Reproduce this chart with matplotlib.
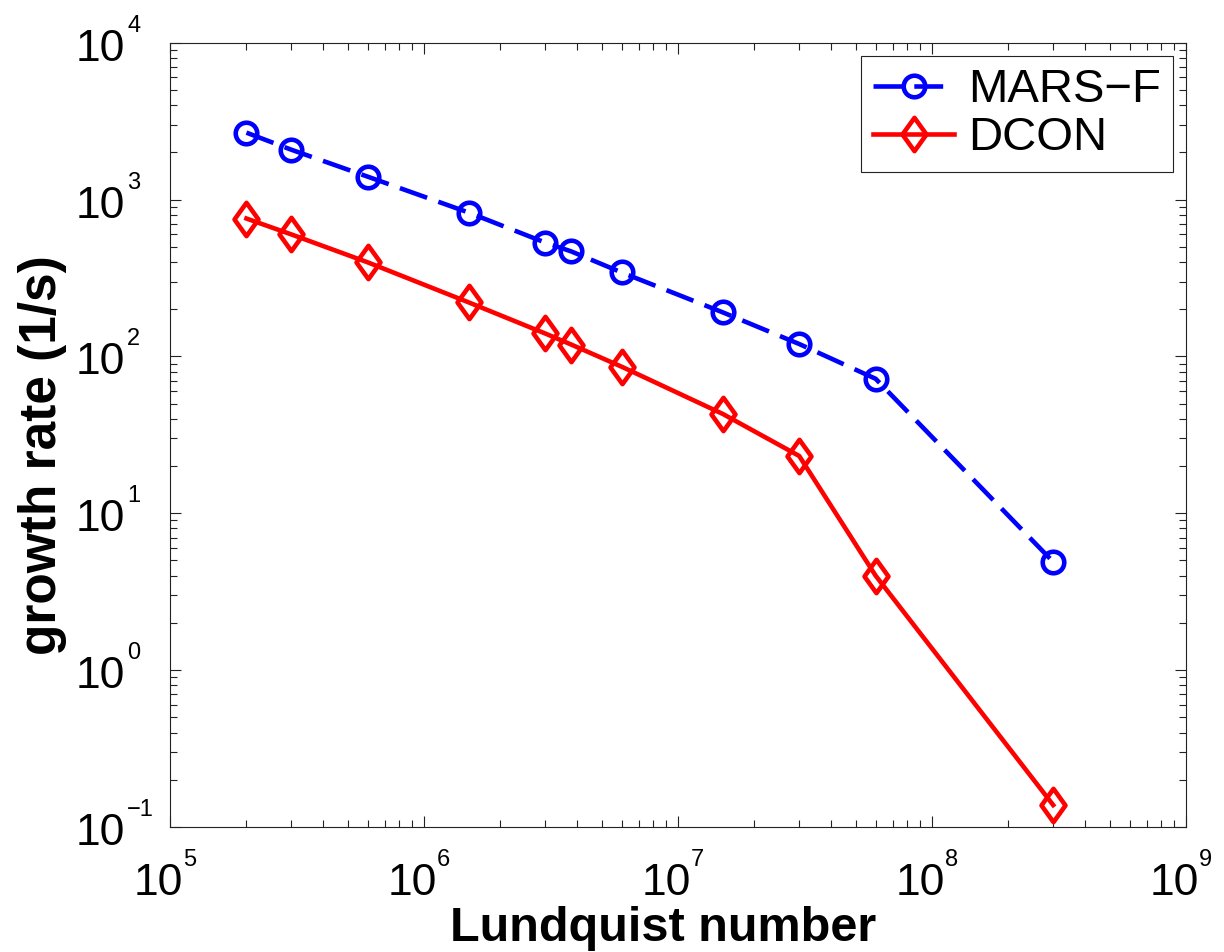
import matplotlib
matplotlib.use("Agg")
import matplotlib.pyplot as plt
from matplotlib.path import Path
import numpy as np

plt.rcParams["font.family"] = ["Liberation Sans", "DejaVu Sans"]

# Lundquist number scan
lundquist = [2e5, 3e5, 6e5, 1.5e6, 3e6, 3.8e6, 6e6, 1.5e7, 3e7, 6e7, 3e8]
# growth rates (1/s)
mars_f = [2670, 2080, 1400, 826, 532, 467, 343, 191, 120, 72, 4.9]
dcon = [757, 600, 398, 221, 140, 119, 86, 43, 23.2, 4.0, 0.138]

x_exponents = [5, 6, 7, 8, 9]
y_exponents = [-1, 0, 1, 2, 3, 4]

PX = 100 / 72.0  # pixels per point at dpi=100

fig = plt.figure(figsize=(12.24, 9.52), dpi=100)
ax = fig.add_axes([170 / 1224, 1 - 827 / 952, 1016 / 1224, 784.3 / 952])

# tall diamond marker
diamond = Path([(0, 1), (0.72, 0), (0, -1), (-0.72, 0), (0, 1)],
               [Path.MOVETO, Path.LINETO, Path.LINETO, Path.LINETO, Path.CLOSEPOLY])

ax.plot(lundquist, mars_f, color=(0, 0, 1), lw=3.3, linestyle=(0, (6.3, 2.6)),
        marker="o", ms=15.5, mew=3.3, mfc="none", mec=(0, 0, 1), label="MARS\u2212F")
ax.plot(lundquist, dcon, color=(1, 0, 0), lw=3.3, linestyle="-",
        marker=diamond, ms=24, mew=3.3, mfc="none", mec=(1, 0, 0), label="DCON")

ax.set_xscale("log")
ax.set_yscale("log")
ax.set_xlim(1e5, 1e9)
ax.set_ylim(1e-1, 1e4)

ax.xaxis.set_major_locator(matplotlib.ticker.LogLocator(base=10, numticks=20))
ax.yaxis.set_major_locator(matplotlib.ticker.LogLocator(base=10, numticks=20))
ax.xaxis.set_minor_locator(matplotlib.ticker.LogLocator(base=10, subs=np.arange(2, 10), numticks=50))
ax.yaxis.set_minor_locator(matplotlib.ticker.LogLocator(base=10, subs=np.arange(2, 10), numticks=50))

ax.tick_params(which="both", direction="in", top=True, right=True,
               labelbottom=False, labelleft=False, width=0.8, color="#222222")
ax.tick_params(which="major", length=8)
ax.tick_params(which="minor", length=5)
for s in ax.spines.values():
    s.set_linewidth(0.8)
    s.set_color("#222222")


def exp_text(e):
    return ("\u2212" + str(-e)) if e < 0 else str(e)


# power-of-ten tick labels with small raised exponents
for e in x_exponents:
    ax.annotate("10", xy=(10.0 ** e, 0), xycoords=("data", "axes fraction"),
                xytext=(13 / PX, -68 / PX), textcoords="offset points",
                ha="right", va="baseline", fontsize=32, annotation_clip=False)
    ax.annotate(exp_text(e), xy=(10.0 ** e, 0), xycoords=("data", "axes fraction"),
                xytext=(13 / PX, -39 / PX), textcoords="offset points",
                ha="left", va="baseline", fontsize=17, annotation_clip=False)

for e in y_exponents:
    ax.annotate("10", xy=(0, 10.0 ** e), xycoords=("axes fraction", "data"),
                xytext=(-45 / PX, -18 / PX), textcoords="offset points",
                ha="right", va="baseline", fontsize=32, annotation_clip=False)
    ax.annotate(exp_text(e), xy=(0, 10.0 ** e), xycoords=("axes fraction", "data"),
                xytext=(-43 / PX, 11 / PX), textcoords="offset points",
                ha="left", va="baseline", fontsize=17, annotation_clip=False)

ax.set_xlabel("Lundquist number", fontsize=35, fontweight="bold", va="baseline")
ax.xaxis.set_label_coords(493 / 1016, -114 / 784.3)
ax.set_ylabel("growth rate (1/s)", fontsize=37, fontweight="bold", va="center")
ax.yaxis.set_label_coords(-127 / 1016, 1 - (455 - 42.7) / 784.3)

leg = ax.legend(loc="upper right", bbox_to_anchor=(1003 / 1016, 1 - 13.3 / 784.3),
                borderaxespad=0, fontsize=34, handlelength=1.7, handletextpad=0.3,
                borderpad=0.26, labelspacing=0.08, fancybox=False, framealpha=1)
leg.get_frame().set_edgecolor("#222222")
leg.get_frame().set_linewidth(0.8)

fig.savefig("out.png", dpi=100, facecolor="white")
